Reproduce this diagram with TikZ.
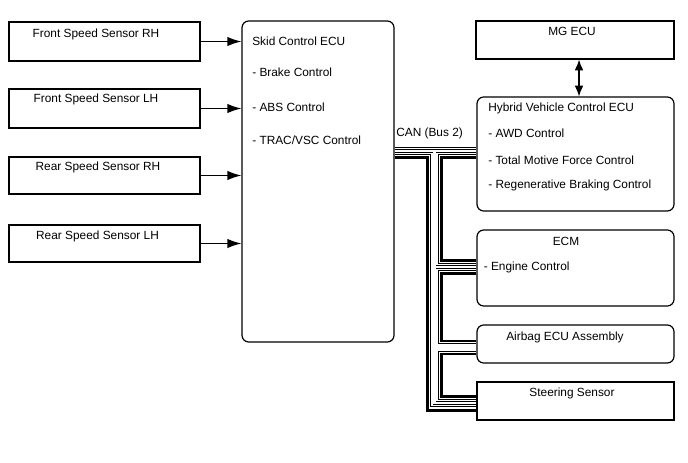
\documentclass[tikz,border=0pt]{standalone}
\usepackage{fontspec}
\setmainfont{Liberation Sans}
\usetikzlibrary{arrows.meta,fit}

\tikzset{
  unitbox/.style={draw, line width=0.9pt, inner sep=0pt},
  ecubox/.style={unitbox, rounded corners=5pt},
  txt/.style={anchor=base, inner sep=0pt, font=\fontsize{8.9}{10}\selectfont},
  ltxt/.style={txt, anchor=base west},
  sig/.style={line width=0.9pt, -{Latex[length=10.5pt,width=7pt]}},
  canpair/.style={line width=0.55pt, double=white, double distance=5.2pt,
    postaction={draw, line width=0.55pt, double=white, double distance=1.6pt}},
  canwire/.style={line width=2.2pt},
}

\begin{document}
\begin{tikzpicture}[x=0.75pt,y=-0.75pt]
\useasboundingbox (0,0) rectangle (688,463);

% sensors
\node[unitbox, fit={(9,22) (200,61)}] (frh) {};
\node[unitbox, fit={(9,89) (200,128)}] (flh) {};
\node[unitbox, fit={(9,157) (200,194)}] (rrh) {};
\node[unitbox, fit={(9,225) (200,262)}] (rlh) {};
\node[txt] (frhT) at (96,37.5) {Front Speed Sensor RH};
\node[txt] (flhT) at (96,103) {Front Speed Sensor LH};
\node[txt] (rrhT) at (98,171) {Rear Speed Sensor RH};
\node[txt] (rlhT) at (97.5,239) {Rear Speed Sensor LH};

% skid control ecu
\node[ecubox, fit={(242,21) (394,342)}] (skid) {};
\node[ltxt] (skidT) at (252,45.5) {Skid Control ECU};
\node[ltxt] (skid1) at (252,77) {- Brake Control};
\node[ltxt] (skid2) at (252,111.5) {- ABS Control};
\node[ltxt] (skid3) at (252,145) {- TRAC/VSC Control};

\draw[sig] (frh.east) -- (skid.west |- frh.east);
\draw[sig] (flh.east) -- (skid.west |- flh.east);
\draw[sig] (rrh.east) -- (skid.west |- rrh.east);
\draw[sig] (rlh.east) -- (skid.west |- rlh.east);

% right side ecus
\node[unitbox, fit={(476,21) (674,59)}] (mg) {};
\node[txt] (mgT) at (572,35.5) {MG ECU};
\node[ecubox, fit={(477,97) (674,211)}] (hv) {};
\node[ltxt] (hvT) at (488,111.5) {Hybrid Vehicle Control ECU};
\node[ltxt] (hv1) at (488,137.5) {- AWD Control};
\node[ltxt] (hv2) at (488,164.5) {- Total Motive Force Control};
\node[ltxt] (hv3) at (488,188.5) {- Regenerative Braking Control};
\node[ecubox, fit={(477,230) (674,306)}] (ecm) {};
\node[txt] (ecmT) at (566,245) {ECM};
\node[ltxt] (ecm1) at (483.5,270.5) {- Engine Control};
\node[ecubox, fit={(477,325) (674,363)}] (airbag) {};
\node[txt] (airbagT) at (565,340.5) {Airbag ECU Assembly};
\node[unitbox, fit={(477,382) (674,420)}] (steer) {};
\node[txt] (steerT) at (572,396.5) {Steering Sensor};

\coordinate (mgx) at (579,0);
\draw[line width=0.9pt, {Latex[length=8pt,width=6.5pt]}-{Latex[length=8pt,width=6.5pt]}]
  (mg.south -| mgx) -- (hv.north -| mgx);

% CAN bus
\node[ltxt] (can) at (396,137) {CAN (Bus 2)};
\coordinate (bt) at (434.5,151);
\coordinate (bb) at (434.5,403);
\coordinate (b1) at (434.5,267);
\coordinate (b2) at (434.5,347.5);
\draw[canpair] (skid.east |- bt) -- (hv.west |- bt)
  (bt) -- (bb) -- (steer.west |- bb)
  (b1) -- (ecm.west |- b1)
  (b2) -- (airbag.west |- b2);

\coordinate (tl) at (427.5,157.5);
\coordinate (bl) at (427.5,410.5);
\coordinate (tr) at (441.5,157.5);
\coordinate (r1) at (441.5,260.5);
\coordinate (r2) at (441.5,273.5);
\coordinate (r3) at (441.5,341);
\coordinate (r4) at (441.5,354);
\coordinate (r5) at (441.5,396.5);
\draw[canwire] (skid.east |- tl) -- (tl) -- (bl) -- (steer.west |- bl);
\draw[canwire] (hv.west |- tr) -- (tr) -- (r1) -- (ecm.west |- r1);
\draw[canwire] (ecm.west |- r2) -- (r2) -- (r3) -- (airbag.west |- r3);
\draw[canwire] (airbag.west |- r4) -- (r4) -- (r5) -- (steer.west |- r5);
\end{tikzpicture}
\end{document}
